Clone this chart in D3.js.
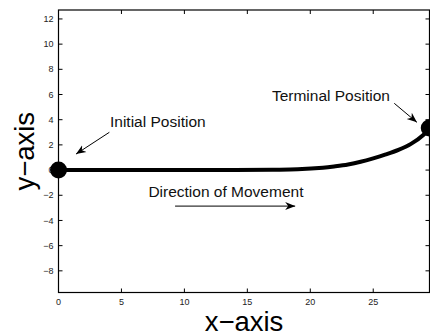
<!DOCTYPE html>
<html>
<head>
<meta charset="utf-8">
<script src="https://cdn.jsdelivr.net/npm/d3@7"></script>
<style>
  html, body { margin: 0; padding: 0; background: #fff; }
  svg { display: block; font-family: "Liberation Sans", Arial, Helvetica, sans-serif; }
</style>
</head>
<body>
<svg id="chart" width="430" height="336"></svg>
<script>
// path
const pathX = [0, 5, 10, 14, 17, 19, 21, 22, 23, 24, 25, 26, 27, 28, 29, 29.45];
const pathY = [0, 0, 0, 0.01, 0.03, 0.06, 0.18, 0.3, 0.45, 0.66, 0.93, 1.24, 1.6, 2.08, 2.8, 3.35];

const xTicks = [0, 5, 10, 15, 20, 25];
const yTicks = [-8, -6, -4, -2, 0, 2, 4, 6, 8, 10, 12];

// annotation text and arrows, in data units
const labels = [
  {text: "Initial Position", x: 4.09, y: 3.39},
  {text: "Terminal Position", x: 16.95, y: 5.5},
  {text: "Direction of Movement", x: 7.14, y: -2.12}
];
const arrows = [
  {x1: 4.04, y1: 3.0, x2: 1.39, y2: 1.27},
  {x1: 26.67, y1: 5.3, x2: 28.47, y2: 3.79},
  {x1: 9.26, y1: -2.86, x2: 18.8, y2: -2.86}
];

const svg = d3.select("#chart");
const mLeft = 58.5, mRight = 429.5, mTop = 10, mBottom = 292.5;

const x = d3.scaleLinear().domain([0, 29.47]).range([mLeft, mRight]);
const y = d3.scaleLinear().domain([-9.72, 12.71]).range([mBottom, mTop]);

svg.append("defs").append("marker")
  .attr("id", "head")
  .attr("viewBox", "0 0 10 10")
  .attr("refX", 10).attr("refY", 5)
  .attr("markerWidth", 10).attr("markerHeight", 10)
  .attr("markerUnits", "userSpaceOnUse")
  .attr("orient", "auto")
  .append("path")
  .attr("d", "M0,1 L10,5 L0,9 L3,5 Z")
  .attr("fill", "#000");

// ticks (inward, on all four sides)
const g = svg.append("g");
g.selectAll(".xt").data(xTicks).join("g").each(function(d) {
  const s = d3.select(this);
  s.append("line").attr("x1", x(d)).attr("x2", x(d)).attr("y1", mBottom).attr("y2", mBottom - 4).attr("stroke", "#000");
  s.append("line").attr("x1", x(d)).attr("x2", x(d)).attr("y1", mTop).attr("y2", mTop + 4).attr("stroke", "#000");
  s.append("text").attr("x", x(d)).attr("y", 305).attr("text-anchor", "middle")
    .attr("font-size", 9).attr("fill", "#222").text(d3.format("d")(d));
});
g.selectAll(".yt").data(yTicks).join("g").each(function(d) {
  const s = d3.select(this);
  s.append("line").attr("x1", mLeft).attr("x2", mLeft + 4).attr("y1", y(d)).attr("y2", y(d)).attr("stroke", "#000");
  s.append("line").attr("x1", mRight).attr("x2", mRight - 4).attr("y1", y(d)).attr("y2", y(d)).attr("stroke", "#000");
  s.append("text").attr("x", 53.5).attr("y", y(d)).attr("dy", "0.34em").attr("text-anchor", "end")
    .attr("font-size", 9).attr("fill", "#222").text(d3.format("d")(d));
});

svg.append("rect")
  .attr("x", mLeft).attr("y", mTop)
  .attr("width", mRight - mLeft).attr("height", mBottom - mTop)
  .attr("fill", "none").attr("stroke", "#000").attr("stroke-width", 1.2);

const pts = pathX.map((d, i) => [d, pathY[i]]);
svg.append("path")
  .datum(pts)
  .attr("d", d3.line().x(d => x(d[0])).y(d => y(d[1])).curve(d3.curveCatmullRom.alpha(0.5)))
  .attr("fill", "none").attr("stroke", "#000").attr("stroke-width", 4);

svg.selectAll(".dot").data([pts[0], pts[pts.length - 1]]).join("circle")
  .attr("cx", d => x(d[0])).attr("cy", d => y(d[1])).attr("r", 8.5).attr("fill", "#000");

svg.selectAll(".lbl").data(labels).join("text")
  .attr("x", d => x(d.x)).attr("y", d => y(d.y))
  .attr("font-size", 15.5).attr("fill", "#111").text(d => d.text);

svg.selectAll(".arr").data(arrows).join("line")
  .attr("x1", d => x(d.x1)).attr("y1", d => y(d.y1))
  .attr("x2", d => x(d.x2)).attr("y2", d => y(d.y2))
  .attr("stroke", "#000").attr("stroke-width", 1)
  .attr("marker-end", "url(#head)");

svg.append("text").attr("x", (mLeft + mRight) / 2).attr("y", 330.5)
  .attr("text-anchor", "middle").attr("font-size", 27.5).text("x\u2212axis");
svg.append("text").attr("transform", "translate(33.5," + ((mTop + mBottom) / 2) + ") rotate(-90)")
  .attr("text-anchor", "middle").attr("font-size", 27.5).text("y\u2212axis");
</script>
</body>
</html>
